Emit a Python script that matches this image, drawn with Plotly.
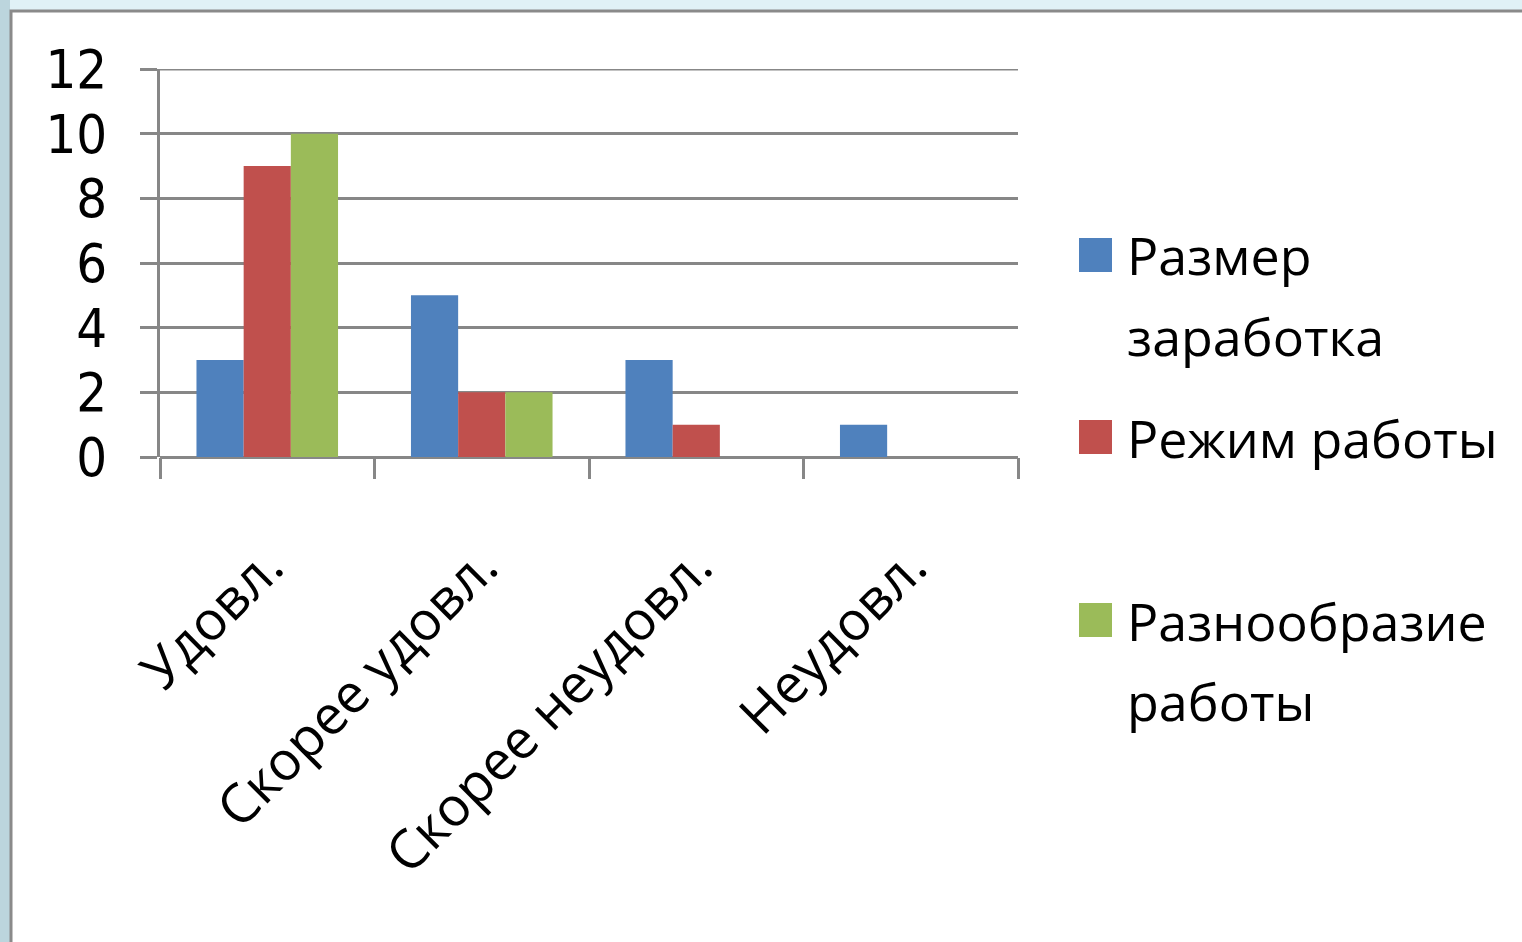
import plotly.graph_objects as go

categories = ["Удовл.", "Скорее удовл.", "Скорее неудовл.", "Неудовл."]
series_names = ["Размер<br>заработка", "Режим работы", "Разнообразие<br>работы"]
earnings = [3, 5, 3, 1]
schedule = [9, 2, 1, 0]
variety = [10, 2, 0, 0]
y_ticks = [0, 2, 4, 6, 8, 10, 12]

colors = ["#4f81bd", "#c0504d", "#9bbb59"]
values = [earnings, schedule, variety]

W, H = 1522, 942
L, R, T, B = 160, 1018, 69, 457
FONT = "'Open Sans', 'Noto Sans', sans-serif"
NUM_FONT = "'Liberation Sans Narrow', 'DejaVu Sans Condensed', 'Open Sans', sans-serif"
GRID = "#878787"

fig = go.Figure()
for name, vals, col in zip(series_names, values, colors):
    fig.add_trace(go.Bar(x=categories, y=vals, name=name.replace("<br>", " "),
                         marker=dict(color=col, line=dict(width=0)),
                         showlegend=False))


def px_x(px):
    return (px - L) / (R - L)


def px_y(py):
    return (B - py) / (B - T)


# page frame: light backdrop with a white panel and grey edge
shapes = [
    dict(type="rect", xref="paper", yref="paper", layer="below",
         x0=px_x(0), x1=px_x(10), y0=px_y(960), y1=px_y(0),
         fillcolor="#bcd5dd", line=dict(width=0)),
    dict(type="rect", xref="paper", yref="paper", layer="below",
         x0=px_x(11), x1=px_x(1540), y0=px_y(960), y1=px_y(11),
         fillcolor="white", line=dict(color="#8a8a8a", width=3)),
    # top gridline at the upper end of the value range
    dict(type="line", xref="paper", yref="y", x0=0, x1=1, y0=y_ticks[-1], y1=y_ticks[-1],
         line=dict(color=GRID, width=3), layer="below"),
]

# legend drawn as swatches with multi-line labels
annotations = []
legend_rows = [255, 437, 620]
line_step = 80
for name, col, cy in zip(series_names, colors, legend_rows):
    shapes.append(dict(type="rect", xref="paper", yref="paper",
                       x0=px_x(1079), x1=px_x(1112), y0=px_y(cy + 17), y1=px_y(cy - 17),
                       fillcolor=col, line=dict(width=0)))
    for i, line in enumerate(name.split("<br>")):
        annotations.append(dict(xref="paper", yref="paper", x=px_x(1125), y=px_y(cy + i * line_step),
                                xanchor="left", yanchor="middle", showarrow=False, text=line,
                                font=dict(family=FONT, size=52, color="black")))

fig.update_layout(
    width=W, height=H,
    margin=dict(l=L, r=W - R, t=T, b=H - B, autoexpand=False),
    paper_bgcolor="#e0f1f6", plot_bgcolor="white",
    barmode="group", bargap=0.34, bargroupgap=0,
    font=dict(family=FONT, color="black"),
    shapes=shapes, annotations=annotations,
    showlegend=False,
)
fig.update_xaxes(
    type="category", tickangle=-45, tickson="boundaries",
    ticks="outside", ticklen=21, tickwidth=3, tickcolor=GRID,
    showline=False, showgrid=False, zeroline=False,
    tickfont=dict(family=FONT, size=54, color="black"),
    ticklabelstandoff=66,
)
fig.update_yaxes(
    range=[0, 12], tickvals=y_ticks, ticktext=[str(v) for v in y_ticks],
    ticks="outside", ticklen=17, tickwidth=3, tickcolor=GRID,
    showline=True, linecolor=GRID, linewidth=3,
    showgrid=True, gridcolor=GRID, gridwidth=3,
    zeroline=True, zerolinecolor=GRID, zerolinewidth=3,
    tickfont=dict(family=NUM_FONT, size=54, color="black"),
    ticklabelstandoff=22,
)

fig.write_html("out.html")
